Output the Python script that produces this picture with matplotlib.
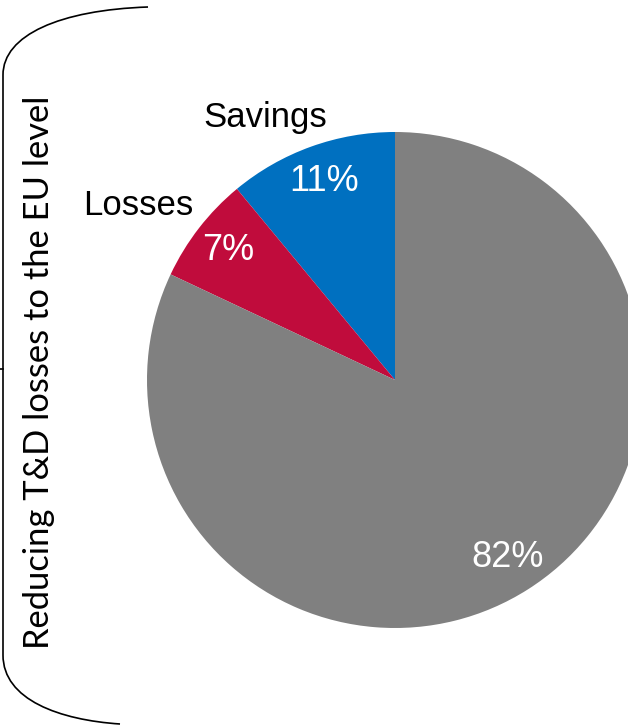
import matplotlib
matplotlib.use("Agg")
import matplotlib.pyplot as plt
from matplotlib.path import Path
from matplotlib.patches import PathPatch

categories = ["Other", "Losses", "Savings"]
values = [82, 7, 11]
pct_labels = ["82%", "7%", "11%"]
colors = ["#808080", "#C00C3C", "#0070C0"]
side_title = "Reducing T&D losses to the EU level"

W, H = 628, 725
fig = plt.figure(figsize=(W / 100, H / 100), dpi=100)

# overlay axes in pixel coordinates (y down)
ax = fig.add_axes([0, 0, 1, 1])
ax.set_xlim(0, W)
ax.set_ylim(H, 0)
ax.axis("off")

# pie axes (y up)
pax = fig.add_axes([0, 0, 1, 1])

cx, cy, R = 395, H - 380, 248
# order counterclockwise from top: Savings, Losses, Other
order = [2, 1, 0]
wedges, texts, autotexts = pax.pie(
    [values[i] for i in order],
    colors=[colors[i] for i in order],
    startangle=90, counterclock=True,
    center=(cx, cy), radius=R, frame=True,
    autopct=lambda p: f"{p:.0f}%", pctdistance=0.85,
    textprops=dict(color="white", fontsize=26, family="Liberation Sans"),
    wedgeprops=dict(linewidth=0),
)
pax.set_xlim(0, W)
pax.set_ylim(0, H)
pax.set_aspect("auto")
pax.axis("off")
for t in autotexts:
    t.set_va("center")
    t.set_ha("center")

# outer labels
ax.text(265, 117, "Savings", fontsize=25, family="Liberation Sans",
        ha="center", va="center", color="black")
ax.text(138, 205, "Losses", fontsize=25, family="Liberation Sans",
        ha="center", va="center", color="black")

# side title
ax.text(39, 372, side_title, rotation=90, fontsize=24.8, family="Lato",
        ha="center", va="center", color="black")

# bracket
verts = [(148, 7), (60, 10), (3, 35), (3, 75),
         (3, 655),
         (3, 700), (60, 720), (120, 724)]
codes = [Path.MOVETO, Path.CURVE4, Path.CURVE4, Path.CURVE4,
         Path.LINETO,
         Path.CURVE4, Path.CURVE4, Path.CURVE4]
ax.add_patch(PathPatch(Path(verts, codes), fill=False, lw=1.2, color="black"))
ax.plot([0, 3], [369, 369], color="black", lw=1.2)

fig.savefig("out.png", dpi=100)
